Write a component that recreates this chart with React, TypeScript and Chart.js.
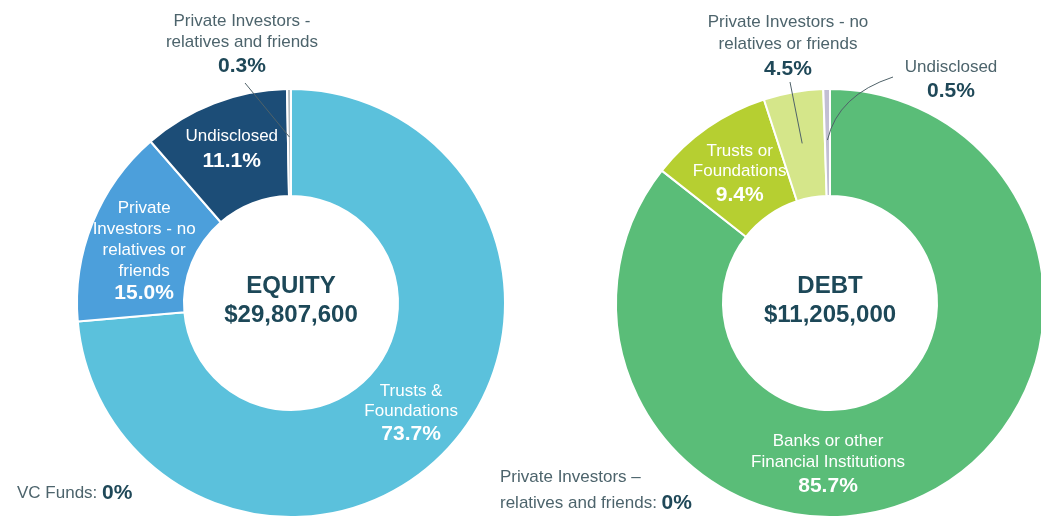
import { useEffect, useRef } from 'react';
import { Chart, registerables } from 'chart.js';

Chart.register(...registerables);

// ---------- DATA ----------
const equityTitle = 'EQUITY';
const equityTotal = '$29,807,600';
const equityCategories = [
  'Trusts & Foundations',
  'VC Funds',
  'Private Investors - no relatives or friends',
  'Undisclosed',
  'Private Investors - relatives and friends',
];
const equityValues = [73.7, 0, 15.0, 11.1, 0.3];
const equityLabelLines = [
  ['Trusts &', 'Foundations'],
  ['VC Funds: '],
  ['Private', 'Investors - no', 'relatives or', 'friends'],
  ['Undisclosed'],
  ['Private Investors -', 'relatives and friends'],
];

const debtTitle = 'DEBT';
const debtTotal = '$11,205,000';
const debtCategories = [
  'Banks or other Financial Institutions',
  'Private Investors – relatives and friends',
  'Trusts or Foundations',
  'Private Investors - no relatives or friends',
  'Undisclosed',
];
const debtValues = [85.7, 0, 9.4, 4.5, 0.5];
const debtLabelLines = [
  ['Banks or other', 'Financial Institutions'],
  ['Private Investors –', 'relatives and friends: '],
  ['Trusts or', 'Foundations'],
  ['Private Investors - no', 'relatives or friends'],
  ['Undisclosed'],
];

// ---------- STYLE ----------
const FONT = '"Liberation Sans", Arial, Helvetica, sans-serif';
const equityColors = ['#5bc1dc', '#5bc1dc', '#4c9fdb', '#1c4d77', '#b3bbbf'];
const debtColors = ['#5abd78', '#5abd78', '#b6cf31', '#d5e68a', '#c2bfd3'];
const OUT_TEXT = '#4d646c';
const PCT_TEXT = '#1f4858';
const CENTER_TEXT = '#1d4858';
const LEADER = '#4f6269';

type Layout =
  | { kind: 'inside'; r: number; angle?: number; lh?: number; pg?: number }
  | { kind: 'inline'; x: number; y: number; lh: number }
  | {
      kind: 'outside';
      x: number;
      y: number;
      lh: number;
      pg: number;
      from: [number, number];
      ctrl?: [number, number];
      r: number;
    };

const equityLayout: Layout[] = [
  { kind: 'inside', r: 163, lh: 20, pg: 23 },
  { kind: 'inline', x: 17, y: 493, lh: 26 },
  { kind: 'inside', r: 156, angle: 289.7, lh: 21, pg: 22 },
  { kind: 'inside', r: 165, lh: 20, pg: 25 },
  { kind: 'outside', x: 242, y: 21, lh: 21, pg: 24, from: [245, 83], r: 166 },
];

const debtLayout: Layout[] = [
  { kind: 'inside', r: 161, angle: 180.7, lh: 21, pg: 24 },
  { kind: 'inline', x: 500, y: 477, lh: 26 },
  { kind: 'inside', r: 158, lh: 20, pg: 24 },
  { kind: 'outside', x: 788, y: 22, lh: 22, pg: 25, from: [790, 82], r: 162 },
  { kind: 'outside', x: 951, y: 67, lh: 24, pg: 24, from: [893, 77], ctrl: [838, 95], r: 163 },
];

function fmtPct(v: number) {
  return v === 0 ? '0%' : v.toFixed(1) + '%';
}

function makeLabelPlugin(title: string, total: string, lines: string[][], layout: Layout[]) {
  return {
    id: 'sliceLabels',
    afterDatasetsDraw(chart: any) {
      const ctx: CanvasRenderingContext2D = chart.ctx;
      const meta = chart.getDatasetMeta(0);
      const values: number[] = chart.data.datasets[0].data;
      const c0 = meta.data[0].getProps(['x', 'y'], true);
      const cx = c0.x;
      const cy = c0.y;
      ctx.save();
      ctx.textAlign = 'center';
      ctx.textBaseline = 'middle';
      ctx.fillStyle = CENTER_TEXT;
      ctx.font = `bold 24px ${FONT}`;
      ctx.fillText(title, cx, cy - 17);
      ctx.fillText(total, cx, cy + 12);

      layout.forEach((L, i) => {
        const arc = meta.data[i];
        const p = arc.getProps(['x', 'y', 'startAngle', 'endAngle'], true);
        const pct = fmtPct(values[i]);
        const txt = lines[i];
        if (L.kind === 'inside') {
          const ang =
            L.angle != null ? ((L.angle - 90) * Math.PI) / 180 : (p.startAngle + p.endAngle) / 2;
          const bx = p.x + L.r * Math.cos(ang);
          const by = p.y + L.r * Math.sin(ang);
          const lh = L.lh ?? 20;
          const pg = L.pg ?? 23;
          const span = (txt.length - 1) * lh + pg;
          const y0 = by - span / 2;
          ctx.textAlign = 'center';
          ctx.fillStyle = '#ffffff';
          ctx.font = `17px ${FONT}`;
          txt.forEach((t, k) => ctx.fillText(t, bx, y0 + k * lh));
          ctx.font = `bold 21px ${FONT}`;
          ctx.fillText(pct, bx, y0 + (txt.length - 1) * lh + pg);
        } else if (L.kind === 'inline') {
          ctx.textAlign = 'left';
          txt.forEach((t, k) => {
            const y = L.y + k * L.lh;
            ctx.fillStyle = OUT_TEXT;
            ctx.font = `17px ${FONT}`;
            ctx.fillText(t, L.x, y);
            if (k === txt.length - 1) {
              const w = ctx.measureText(t).width;
              ctx.fillStyle = PCT_TEXT;
              ctx.font = `bold 21px ${FONT}`;
              ctx.fillText(pct, L.x + w, y);
            }
          });
        } else {
          ctx.textAlign = 'center';
          ctx.fillStyle = OUT_TEXT;
          ctx.font = `17px ${FONT}`;
          txt.forEach((t, k) => ctx.fillText(t, L.x, L.y + k * L.lh));
          ctx.fillStyle = PCT_TEXT;
          ctx.font = `bold 21px ${FONT}`;
          ctx.fillText(pct, L.x, L.y + (txt.length - 1) * L.lh + L.pg);
          // leader line to slice
          const mid = (p.startAngle + p.endAngle) / 2;
          const ex = p.x + L.r * Math.cos(mid);
          const ey = p.y + L.r * Math.sin(mid);
          ctx.strokeStyle = LEADER;
          ctx.lineWidth = 1;
          ctx.beginPath();
          ctx.moveTo(L.from[0], L.from[1]);
          if (L.ctrl) ctx.quadraticCurveTo(L.ctrl[0], L.ctrl[1], ex, ey);
          else ctx.lineTo(ex, ey);
          ctx.stroke();
        }
      });
      ctx.restore();
    },
  };
}

const CW = 1060;
const CH = 530;

function Donut(props: {
  categories: string[];
  values: number[];
  colors: string[];
  padding: { left: number; right: number; top: number; bottom: number };
  title: string;
  total: string;
  lines: string[][];
  layout: Layout[];
}) {
  const ref = useRef<HTMLCanvasElement | null>(null);
  useEffect(() => {
    if (!ref.current) return;
    const chart = new Chart(ref.current, {
      type: 'doughnut',
      data: {
        labels: props.categories,
        datasets: [
          {
            data: props.values,
            backgroundColor: props.colors,
            borderColor: '#ffffff',
            borderWidth: 2,
            hoverOffset: 0,
          },
        ],
      },
      options: {
        responsive: false,
        animation: false,
        events: [],
        cutout: '50%',
        layout: { padding: props.padding },
        plugins: { legend: { display: false }, tooltip: { enabled: false } },
      },
      plugins: [makeLabelPlugin(props.title, props.total, props.lines, props.layout)],
    } as any);
    return () => chart.destroy();
  }, []);
  return (
    <canvas
      ref={ref}
      width={CW}
      height={CH}
      style={{ position: 'absolute', left: 0, top: 0, width: CW, height: CH, display: 'block' }}
    />
  );
}

export default function App() {
  return (
    <div
      style={{
        position: 'fixed',
        left: 0,
        top: 0,
        width: 1041,
        height: 516,
        overflow: 'hidden',
        background: '#ffffff',
      }}
    >
      <Donut
        categories={equityCategories}
        values={equityValues}
        colors={equityColors}
        padding={{ left: 76, right: CW - 506, top: 88, bottom: CH - 518 }}
        title={equityTitle}
        total={equityTotal}
        lines={equityLabelLines}
        layout={equityLayout}
      />
      <Donut
        categories={debtCategories}
        values={debtValues}
        colors={debtColors}
        padding={{ left: 615, right: CW - 1045, top: 88, bottom: CH - 518 }}
        title={debtTitle}
        total={debtTotal}
        lines={debtLabelLines}
        layout={debtLayout}
      />
    </div>
  );
}
